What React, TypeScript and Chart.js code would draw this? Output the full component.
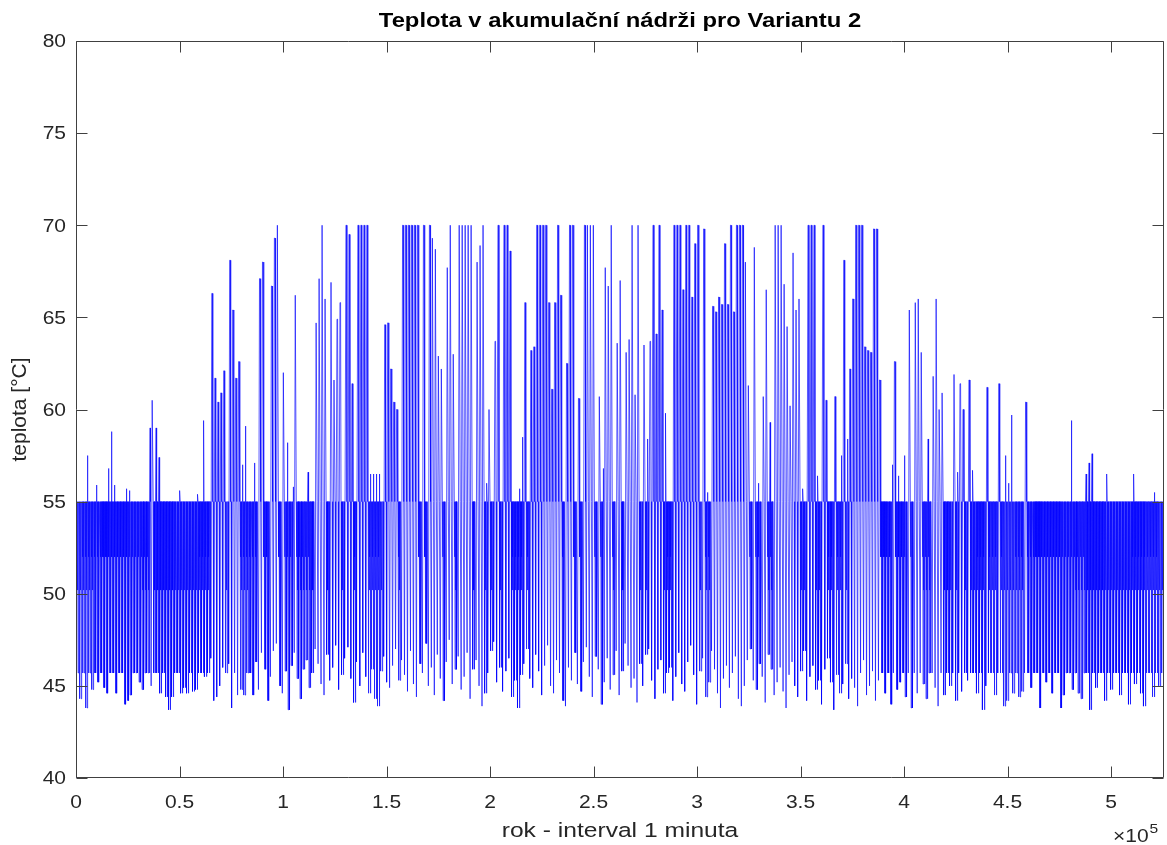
import React, { useEffect, useRef } from "react";
import { Chart, registerables } from "chart.js";

Chart.register(...registerables);

// ---------------- texts ----------------
const TITLE = "Teplota v akumulační nádrži pro Variantu 2";
const X_LABEL = "rok - interval 1 minuta";
const Y_LABEL = "teplota [°C]";
const X_EXP_BASE = "×10";
const X_EXP_POWER = "5";

// ---------------- axes ----------------
const X_MIN = 0;
const X_MAX = 525600; // minutes in a year
const Y_MIN = 40;
const Y_MAX = 80;
const xTickValues = [0, 50000, 100000, 150000, 200000, 250000, 300000, 350000, 400000, 450000, 500000];
const xTickLabels = ["0", "0.5", "1", "1.5", "2", "2.5", "3", "3.5", "4", "4.5", "5"];
const yTickValues = [40, 45, 50, 55, 60, 65, 70, 75, 80];
const yTickLabels = ["40", "45", "50", "55", "60", "65", "70", "75", "80"];

// ---------------- data ----------------
const MINUTES_PER_DAY = 1440;
const initialTemp = 40; // tank temperature at minute 0
const thermostatOff = 55; // upper level of the heater hysteresis
const thermostatOn = 52; // lower level of the heater hysteresis
const drawOffLevel = 50.2; // typical depth of a mid-day draw-off
const solarDayThreshold = 60; // days whose peak is above this are solar-driven

// daily peaks above 55 °C (day index, peak temperature)
const spikeDays = [
  3, 6, 10, 11, 12, 16, 17, 24, 25, 26, 27, 34, 40, 42, 45, 46, 47, 48, 49, 51, 52, 53, 54, 55, 56, 59,
  61, 62, 65, 66, 67, 69, 70, 72, 73, 77, 80, 81, 82, 83, 85, 86, 87, 88, 90, 91, 92, 94, 95, 96, 97, 98, 99, 100, 101,
  103, 104, 105, 106, 107, 109, 110, 111, 112, 113, 114, 116, 118, 119, 120,
  121, 122, 124, 125, 126, 128, 129, 130, 131, 132, 134, 135, 136, 137, 138, 140, 141, 143, 144, 145, 148, 149, 150,
  152, 153, 154, 155, 156, 157, 158, 159, 160, 161, 162, 164, 165, 166, 168, 170, 171, 172, 173, 175, 176, 177, 178, 179,
  181, 182, 184, 185, 186, 187, 188, 190, 191, 192, 193, 194, 195, 196, 197, 200, 201, 202, 203, 204, 205, 206, 207, 208,
  210, 211, 213, 214, 215, 216, 217, 218, 219, 220, 221, 222, 223, 224, 225, 227, 228, 230, 231, 232, 234, 235, 236, 237,
  238, 239, 240, 241, 242, 243, 245, 246, 247, 248, 250, 251, 254, 256, 257, 258, 259, 260, 261, 262, 263, 264, 265, 266,
  267, 268, 269, 273, 274, 275, 277, 279, 281, 282, 283, 285, 287, 288, 289, 290, 294, 295, 296, 297, 299, 300, 305, 309,
  311, 312, 313, 318, 333, 338, 339, 340, 345, 354, 361,
];
const spikePeaks = [
  57.5, 55.9, 56.8, 58.8, 55.9, 55.7, 55.6, 59.0, 60.5, 59.0, 57.4, 55.6, 55.4, 59.4, 66.3, 61.7, 60.4, 60.9, 62.1, 68.1, 65.4, 61.7, 62.6, 57.0, 59.1, 57.1,
  67.1, 68.0, 66.7, 69.3, 70, 62.0, 58.2, 55.8, 66.2, 56.6, 64.7, 67.1, 70, 66.0, 66.9, 61.6, 64.9, 65.8, 70, 69.5, 61.4, 70, 70, 70, 70, 56.5, 56.5, 56.5, 56.5,
  64.6, 64.7, 62.2, 60.4, 60.0, 70, 70, 70, 70, 70, 70, 70, 70, 69.3, 68.7,
  62.9, 62.2, 67.7, 70, 63.0, 70, 70, 70, 70, 70, 68.0, 68.9, 70, 56.0, 60.0, 63.7, 70, 70, 70, 68.6, 55.7, 58.5, 65.8,
  63.2, 63.4, 70, 70, 70, 70, 65.8, 61.1, 65.8, 70, 66.2, 62.5, 70, 70, 60.6, 70, 70, 70, 70, 60.7, 56.8, 67.7, 66.7, 70,
  63.6, 67.0, 63.1, 63.8, 70, 60.8, 70, 63.5, 58.4, 63.7, 70, 64.1, 70, 65.4, 59.8, 70, 70, 70, 66.5, 70, 70, 66.1, 69.0, 70,
  69.8, 55.5, 65.6, 65.3, 66.1, 65.7, 69.0, 65.7, 70, 65.3, 70, 70, 70, 68.0, 61.3, 68.8, 56.0, 60.7, 66.5, 59.3, 70, 70, 70, 66.8,
  64.5, 60.2, 68.5, 65.4, 66.0, 55.7, 70, 70, 70, 56.4, 70, 60.5, 60.7, 57.5, 68.1, 58.4, 62.2, 66.0, 70, 70, 70, 63.4, 63.2, 63.1,
  69.8, 69.8, 61.6, 57.0, 62.6, 56.4, 57.5, 65.4, 65.8, 66.0, 63.1, 58.4, 61.8, 66.0, 60.0, 60.9, 61.9, 56.6, 61.4, 60.0, 61.6, 56.7, 61.2, 61.4,
  57.5, 56.0, 59.7, 60.4, 59.4, 56.5, 57.1, 57.6, 56.5, 56.5, 55.5,
];

// daily minimum temperature (365 days)
const dailyLow = [
  45.7, 44.3, 45.7, 43.8, 45.7, 44.8, 45.7, 45.2, 45.7, 44.9,
  44.6, 45.7, 45.7, 44.6, 45.7, 45.7, 44.0, 44.2, 44.5, 45.7,
  45.7, 45.2, 44.8, 45.7, 45.7, 45.0, 45.7, 45.7, 44.6, 45.7,
  44.4, 43.7, 44.4, 45.7, 45.7, 44.6, 44.9, 44.6, 45.7, 44.7,
  44.8, 45.7, 45.7, 45.5, 45.7, 46.5, 44.2, 44.4, 45.0, 46.0,
  45.7, 46.2, 43.8, 45.7, 44.5, 44.8, 44.5, 45.7, 45.7, 44.5,
  46.3, 44.8, 46.8, 45.9, 44.2, 45.5, 46.9, 47.3, 45.0, 44.6,
  45.8, 43.7, 46.1, 46.8, 45.4, 44.3, 45.9, 46.4, 44.9, 45.7,
  47.0, 46.2, 45.1, 44.5, 46.7, 45.3, 46.0, 47.2, 44.8, 45.6,
  46.5, 47.1, 45.4, 44.1, 46.3, 45.0, 46.8, 45.5, 44.6, 45.9,
  44.3, 43.9, 45.8, 46.6, 45.2, 44.9, 46.1, 47.0, 45.3, 46.4,
  45.6, 44.7, 46.9, 45.1, 44.4, 46.2, 45.7, 47.3, 45.0, 46.0,
  44.5, 46.7, 45.4, 44.2, 46.3, 47.5, 45.1, 45.9, 46.6, 44.8,
  45.5, 46.8, 44.3, 45.9, 46.4, 45.0, 43.9, 44.6, 45.7, 46.9,
  47.4, 45.2, 46.0, 44.7, 45.8, 46.5, 44.4, 45.3, 43.8, 45.6,
  46.2, 47.0, 45.4, 44.9, 46.7, 45.8, 44.5, 46.1, 47.2, 45.0,
  44.6, 46.4, 45.7, 44.2, 43.9, 46.0, 45.3, 46.8, 45.1, 44.7,
  46.3, 47.1, 45.5, 44.4, 46.6, 45.9, 44.0, 45.2, 46.5, 44.8,
  45.6, 46.9, 44.5, 45.8, 47.3, 46.1, 44.9, 45.4, 44.1, 46.2,
  45.0, 46.7, 47.0, 45.3, 44.3, 45.9, 46.4, 44.6, 45.7, 46.0,
  44.2, 45.5, 46.8, 45.1, 44.7, 46.3, 47.2, 45.6, 44.0, 45.8,
  46.5, 44.4, 45.2, 46.9, 45.9, 44.6, 43.8, 45.4, 46.1, 44.9,
  45.7, 46.6, 44.3, 43.9, 45.0, 46.4, 47.0, 45.3, 44.8, 46.2,
  45.5, 44.1, 46.7, 45.9, 44.5, 45.2, 46.0, 44.7, 43.8, 45.6,
  46.3, 45.0, 44.4, 45.8, 46.9, 44.2, 45.5, 46.1, 44.8, 45.3,
  44.0, 45.9, 46.5, 45.2, 43.7, 45.6, 44.6, 45.1, 46.2, 44.3,
  45.4, 44.9, 43.9, 45.7, 46.4, 44.5, 45.0, 45.8, 44.2, 45.3,
  45.7, 44.6, 45.7, 44.0, 45.7, 44.8, 45.2, 45.7, 44.4, 45.7,
  43.8, 45.7, 44.6, 45.7, 45.1, 44.3, 45.7, 45.7, 44.9, 43.9,
  45.7, 44.5, 45.7, 45.0, 45.7, 44.2, 45.7, 44.7, 45.7, 45.3,
  45.7, 45.7, 44.6, 45.7, 43.7, 45.0, 45.7, 45.7, 44.5, 45.7,
  45.7, 43.9, 44.2, 45.7, 44.6, 45.7, 44.4, 44.7, 45.7, 45.7,
  44.9, 45.7, 45.7, 43.8, 45.7, 45.2, 45.7, 44.6, 45.7, 45.7,
  43.8, 44.5, 45.7, 45.7, 44.8, 45.7, 44.6, 44.3, 45.7, 45.7,
  43.7, 45.7, 44.9, 45.7, 45.7, 44.2, 45.7, 44.8, 45.7, 45.7,
  44.5, 45.7, 45.7, 44.0, 45.7, 45.1, 45.7, 44.6, 43.9, 45.7,
  45.7, 44.4, 45.7, 45.0, 45.7,
];

// ---------------- styles ----------------
const W = 1167;
const H = 845;
const LINE_COLOR = "#0000ff";
const LINE_WIDTH = 0.65;
const AXIS_COLOR = "#404040";
const TEXT_COLOR = "#262626";
const FONT_FAMILY = '"Liberation Sans", Arial, Helvetica, sans-serif';
const STRETCH = 1.2;
const TICK_FONT = 17.5;
const LABEL_FONT = 20.5;
const TITLE_FONT = 20;
const TICK_LEN = 11;

function buildSeries() {
  const peak: number[] = dailyLow.map(() => thermostatOff);
  spikeDays.forEach((d, i) => {
    peak[d] = Math.max(peak[d], spikePeaks[i]);
  });
  const pts: { x: number; y: number }[] = [{ x: 0, y: initialTemp }];
  for (let d = 0; d < dailyLow.length; d++) {
    const t = d * MINUTES_PER_DAY;
    const lo = dailyLow[d];
    const pk = peak[d];
    if (pk < solarDayThreshold) {
      // heater-controlled day: hysteresis cycles, morning and evening draw-offs
      pts.push(
        { x: t, y: thermostatOff },
        { x: t + 80, y: thermostatOn },
        { x: t + 160, y: thermostatOff },
        { x: t + 240, y: lo },
        { x: t + 420, y: thermostatOff },
        { x: t + 500, y: thermostatOn },
        { x: t + 580, y: thermostatOff },
        { x: t + 680, y: drawOffLevel },
        { x: t + 780, y: thermostatOff },
        { x: t + 860, y: thermostatOn },
        { x: t + 940, y: thermostatOff },
        { x: t + 1020, y: lo },
        { x: t + 1180, y: thermostatOff },
        { x: t + 1260, y: pk },
        { x: t + 1360, y: thermostatOff }
      );
    } else {
      // solar-driven day
      pts.push(
        { x: t, y: thermostatOff },
        { x: t + 300, y: lo },
        { x: t + 800, y: pk },
        { x: t + 1100, y: pk },
        { x: t + 1300, y: thermostatOff }
      );
    }
  }
  pts.push({ x: X_MAX, y: thermostatOff });
  return pts;
}

function stretchedText(
  ctx: CanvasRenderingContext2D,
  text: string,
  x: number,
  y: number,
  align: CanvasTextAlign,
  sx: number
) {
  ctx.save();
  ctx.translate(x, y);
  ctx.scale(sx, 1);
  ctx.textAlign = align;
  ctx.fillText(text, 0, 0);
  ctx.restore();
}

const matlabAxesPlugin = {
  id: "matlabAxes",
  afterDatasetsDraw(chart: any) {
    const { ctx, chartArea: ca, scales } = chart;
    const xs = scales.x;
    const ys = scales.y;
    const L = Math.round(ca.left) + 0.5;
    const R = Math.round(ca.right) - 0.5;
    const T = Math.round(ca.top) + 0.5;
    const B = Math.round(ca.bottom) - 0.5;
    ctx.save();
    ctx.strokeStyle = AXIS_COLOR;
    ctx.lineWidth = 1;
    ctx.beginPath();
    ctx.rect(L, T, R - L, B - T);
    xs.ticks.forEach((tk: any) => {
      const px = Math.round(xs.getPixelForValue(tk.value)) + 0.5;
      ctx.moveTo(px, B);
      ctx.lineTo(px, B - TICK_LEN);
      ctx.moveTo(px, T);
      ctx.lineTo(px, T + TICK_LEN);
    });
    ys.ticks.forEach((tk: any) => {
      const py = Math.round(ys.getPixelForValue(tk.value)) + 0.5;
      ctx.moveTo(L, py);
      ctx.lineTo(L + TICK_LEN, py);
      ctx.moveTo(R, py);
      ctx.lineTo(R - TICK_LEN, py);
    });
    ctx.stroke();

    // tick labels
    ctx.fillStyle = TEXT_COLOR;
    ctx.font = `${TICK_FONT}px ${FONT_FAMILY}`;
    ctx.textBaseline = "alphabetic";
    xs.ticks.forEach((tk: any, i: number) => {
      const px = xs.getPixelForValue(tk.value);
      stretchedText(ctx, xTickLabels[i], px, 808, "center", STRETCH);
    });
    ctx.textBaseline = "middle";
    ys.ticks.forEach((tk: any, i: number) => {
      const py = ys.getPixelForValue(tk.value);
      stretchedText(ctx, yTickLabels[i], 66, py + 1.5, "right", STRETCH);
    });

    // exponent
    ctx.textBaseline = "alphabetic";
    ctx.font = `${TICK_FONT}px ${FONT_FAMILY}`;
    stretchedText(ctx, X_EXP_BASE, 1113, 842, "left", STRETCH);
    ctx.font = `${13}px ${FONT_FAMILY}`;
    stretchedText(ctx, X_EXP_POWER, 1149.5, 833, "left", STRETCH);

    // axis labels
    ctx.font = `${LABEL_FONT}px ${FONT_FAMILY}`;
    stretchedText(ctx, X_LABEL, (ca.left + ca.right) / 2, 837, "center", STRETCH);
    ctx.save();
    ctx.translate(20, (ca.top + ca.bottom) / 2);
    ctx.rotate(-Math.PI / 2);
    ctx.textAlign = "center";
    ctx.textBaseline = "middle";
    ctx.font = `21px ${FONT_FAMILY}`;
    ctx.fillText(Y_LABEL, 0, 0);
    ctx.restore();

    // title
    ctx.fillStyle = "#000000";
    ctx.font = `bold ${TITLE_FONT}px ${FONT_FAMILY}`;
    ctx.textBaseline = "alphabetic";
    stretchedText(ctx, TITLE, (ca.left + ca.right) / 2, 26.5, "center", 1.19);
    ctx.restore();
  },
};

export default function App() {
  const canvasRef = useRef<HTMLCanvasElement | null>(null);

  useEffect(() => {
    const canvas = canvasRef.current;
    if (!canvas) return;
    const data = buildSeries();
    const chart = new Chart(canvas, {
      type: "line",
      data: {
        datasets: [
          {
            data,
            borderColor: LINE_COLOR,
            borderWidth: LINE_WIDTH,
            pointRadius: 0,
            tension: 0,
            fill: false,
          },
        ],
      },
      options: {
        animation: false,
        responsive: false,
        devicePixelRatio: 1,
        parsing: false,
        normalized: true,
        events: [],
        layout: { padding: { top: 41, right: 3, left: 0, bottom: 0 } },
        plugins: {
          legend: { display: false },
          title: { display: false },
          tooltip: { enabled: false },
        },
        scales: {
          x: {
            type: "linear",
            min: X_MIN,
            max: X_MAX,
            grid: { display: false, drawTicks: false },
            border: { display: false },
            ticks: { display: false },
            afterBuildTicks: (s: any) => {
              s.ticks = xTickValues.map((value) => ({ value }));
            },
            afterFit: (s: any) => {
              s.height = 67;
            },
          },
          y: {
            type: "linear",
            min: Y_MIN,
            max: Y_MAX,
            grid: { display: false, drawTicks: false },
            border: { display: false },
            ticks: { display: false },
            afterBuildTicks: (s: any) => {
              s.ticks = yTickValues.map((value) => ({ value }));
            },
            afterFit: (s: any) => {
              s.width = 76;
            },
          },
        },
      } as any,
      plugins: [matlabAxesPlugin],
    });
    return () => chart.destroy();
  }, []);

  return (
    <div style={{ position: "absolute", left: 0, top: 0, width: W, height: H, background: "#ffffff" }}>
      <canvas ref={canvasRef} width={W} height={H} style={{ display: "block", width: W, height: H }} />
    </div>
  );
}
